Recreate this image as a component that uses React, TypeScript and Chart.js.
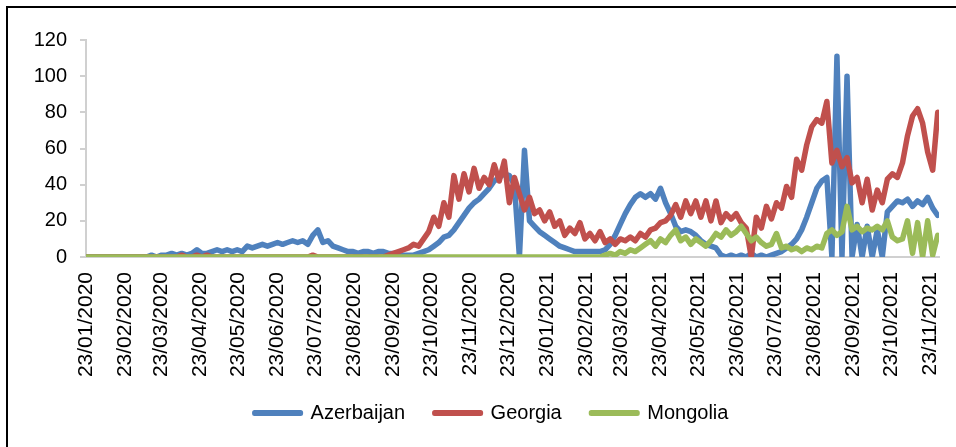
import React, { useEffect, useRef } from 'react';
import { Chart, registerables } from 'chart.js';

Chart.register(...registerables);

// ---- data -------------------------------------------------------------
const START_DATE = '23/01/2020';
const STEP_DAYS = 4; // one value every 4 days starting at START_DATE

const tickLabels = [
  '23/01/2020', '23/02/2020', '23/03/2020', '23/04/2020', '23/05/2020', '23/06/2020',
  '23/07/2020', '23/08/2020', '23/09/2020', '23/10/2020', '23/11/2020', '23/12/2020',
  '23/01/2021', '23/02/2021', '23/03/2021', '23/04/2021', '23/05/2021', '23/06/2021',
  '23/07/2021', '23/08/2021', '23/09/2021', '23/10/2021', '23/11/2021',
];

const seriesNames = ['Azerbaijan', 'Georgia', 'Mongolia'];
const seriesColors = ['#4F81BD', '#C0504D', '#9BBB59'];

const azerbaijan = [
  0, 0, 0, 0, 0, 0, 0, 0, 0, 0, 0, 0,
  0, 1, 0, 1, 1, 2, 1, 2, 1, 2, 4, 2, 2, 3, 4, 3, 4, 3, 4, 3,
  6, 5, 6, 7, 6, 7, 8, 7, 8, 9, 8, 9, 7, 12, 15, 8, 9, 6, 5, 4,
  3, 3, 2, 3, 3, 2, 3, 3, 2, 2, 1, 1, 1, 1, 2, 3, 4, 6, 8, 11,
  12, 15, 19, 23, 27, 30, 32, 35, 38, 42, 44, 46, 45, 40, 0, 59, 20, 17, 14, 12,
  10, 8, 6, 5, 4, 3, 3, 3, 3, 3, 3, 4, 7, 12, 18, 24, 29, 33, 35, 33,
  35, 32, 38, 30, 24, 17, 14, 15, 14, 12, 9, 7, 6, 5, 1, 0, 1, 0, 1, 0,
  2, 0, 1, 0, 1, 2, 3, 5, 7, 10, 15, 22, 30, 38, 42, 44, 0, 111, 0, 100,
  0, 18, 0, 17, 0, 15, 0, 25, 28, 31, 30, 32, 28, 31, 29, 33, 27, 23,
];

const georgia = [
  0, 0, 0, 0, 0, 0, 0, 0, 0, 0, 0, 0, 0, 0, 0, 0, 0, 0, 0, 1,
  0, 0, 1, 0, 1, 0, 0, 0, 0, 0, 0, 0, 0, 0, 0, 0, 0, 0, 0, 0,
  0, 0, 0, 0, 0, 1, 0, 0, 0, 0, 0, 0, 0, 0, 0, 0, 0, 0, 0, 0,
  1, 2, 3, 4, 5, 7, 6, 10, 14, 22, 17, 30, 22, 45, 32, 46, 36, 49, 38, 44,
  40, 51, 42, 53, 30, 44, 35, 26, 33, 24, 26, 20, 25, 17, 20, 12, 16, 13, 19, 10,
  13, 9, 14, 8, 10, 7, 10, 9, 11, 9, 13, 11, 15, 16, 19, 20, 23, 29, 22, 31,
  24, 31, 22, 31, 20, 31, 19, 24, 21, 24, 19, 16, 0, 22, 16, 28, 21, 30, 27, 39,
  33, 54, 48, 62, 72, 76, 74, 86, 52, 59, 50, 55, 41, 44, 30, 43, 26, 37, 30, 43,
  46, 44, 52, 67, 78, 82, 74, 58, 48, 80,
];

const mongolia = [
  0, 0, 0, 0, 0, 0, 0, 0, 0, 0, 0, 0, 0, 0, 0, 0, 0, 0, 0, 0,
  0, 0, 0, 0, 0, 0, 0, 0, 0, 0, 0, 0, 0, 0, 0, 0, 0, 0, 0, 0,
  0, 0, 0, 0, 0, 0, 0, 0, 0, 0, 0, 0, 0, 0, 0, 0, 0, 0, 0, 0,
  0, 0, 0, 0, 0, 0, 0, 0, 0, 0, 0, 0, 0, 0, 0, 0, 0, 0, 0, 0,
  0, 0, 0, 0, 0, 0, 0, 0, 0, 0, 0, 0, 0, 0, 0, 0, 0, 0, 0, 0,
  0, 0, 0,
  1, 2, 1, 3, 2, 4, 3, 5, 7, 9, 6, 10, 8, 12, 15, 9, 11,
  7, 10, 8, 6, 9, 13, 11, 15, 12, 14, 17, 13, 9, 11, 8, 6, 7, 13, 5, 6,
  4, 5, 3, 5, 4, 6, 5, 13, 15, 12, 14, 28, 15, 17, 14, 16, 15, 17, 15, 20,
  11, 9, 10, 20, 2, 19, 0, 20, 1, 12,
];

const seriesValues = [azerbaijan, georgia, mongolia];

// ---- helpers ----------------------------------------------------------
function dayNumber(label: string): number {
  const [d, m, y] = label.split('/').map(Number);
  const [d0, m0, y0] = START_DATE.split('/').map(Number);
  return Math.round((Date.UTC(y, m - 1, d) - Date.UTC(y0, m0 - 1, d0)) / 86400000);
}

const tickDays = tickLabels.map(dayNumber);
const labelByDay: Record<number, string> = {};
tickLabels.forEach((l, i) => { labelByDay[tickDays[i]] = l; });

const FONT = "'Liberation Sans', Arial, sans-serif";
const AXIS_GREY = '#d0d0d0';

// nudges the legend block to where the reference shows it
const LEGEND_DX = 22;
const LEGEND_DY = -8.5;
const legendPlacement = {
  id: 'legendPlacement',
  afterLayout(chart: any) {
    const lg = chart.legend;
    if (!lg) return;
    lg.left += LEGEND_DX;
    lg.right += LEGEND_DX;
    lg.top += LEGEND_DY;
    lg.bottom += LEGEND_DY;
  },
};

export default function App() {
  const canvasRef = useRef<HTMLCanvasElement | null>(null);

  useEffect(() => {
    if (!canvasRef.current) return;
    Chart.defaults.font.family = FONT;
    const datasets = seriesNames.map((name, si) => ({
      label: name,
      data: seriesValues[si].map((v, i) => ({ x: i * STEP_DAYS, y: v })),
      borderColor: seriesColors[si],
      backgroundColor: seriesColors[si],
      borderWidth: 5.5,
      pointRadius: 0,
      tension: 0,
      borderJoinStyle: 'round' as const,
      borderCapStyle: 'round' as const,
      order: seriesNames.length - 1 - si,
    }));

    const chart = new Chart(canvasRef.current, {
      type: 'line',
      data: { datasets },
      plugins: [legendPlacement],
      options: {
        responsive: false,
        animation: false,
        devicePixelRatio: 1,
        layout: { padding: { left: 0, right: 17, top: 40, bottom: 5.5 } },
        plugins: {
          tooltip: { enabled: false },
          legend: {
            position: 'bottom',
            labels: {
              boxWidth: 46,
              boxHeight: 1,
              padding: 29.5,
              color: '#000',
              font: { size: 20, family: FONT },
              generateLabels: (c: any) =>
                c.data.datasets.map((ds: any, i: number) => ({
                  text: ds.label,
                  fillStyle: ds.borderColor,
                  strokeStyle: ds.borderColor,
                  lineWidth: 5,
                  lineJoin: 'round',
                  lineCap: 'round',
                  datasetIndex: i,
                  hidden: false,
                  fontColor: '#000',
                })),
            },
          },
        },
        scales: {
          x: {
            type: 'linear',
            min: 0,
            max: 677,
            afterFit: (s: any) => { s.height = 125; s.paddingLeft = 0; s.paddingRight = 0; },
            afterBuildTicks: (s: any) => { s.ticks = tickDays.map((v) => ({ value: v })); },
            grid: { display: true, drawOnChartArea: false, drawTicks: false, color: AXIS_GREY },
            border: { display: true, color: AXIS_GREY, width: 2 },
            ticks: {
              autoSkip: false,
              maxRotation: 90,
              minRotation: 90,
              padding: 15,
              color: '#000',
              font: { size: 21, family: FONT },
              callback: (v: any) => labelByDay[Math.round(Number(v))] ?? '',
            },
          },
          y: {
            min: 0,
            max: 120,
            afterFit: (s: any) => { s.width = 86; },
            ticks: { stepSize: 20, padding: 13, color: '#000', font: { size: 20, family: FONT } },
            grid: { drawOnChartArea: false, drawTicks: true, tickLength: 6, color: AXIS_GREY, lineWidth: 2 },
            border: { display: true, color: AXIS_GREY, width: 2 },
          },
        },
      } as any,
    });
    return () => chart.destroy();
  }, []);

  return (
    <div style={{ position: 'fixed', left: 0, top: 0, width: 956, height: 447, overflow: 'hidden', background: '#fff' }}>
      <canvas ref={canvasRef} width={956} height={447} style={{ position: 'absolute', left: 0, top: 0 }} />
      <div style={{ position: 'absolute', left: 6, top: 6, width: 2000, height: 2000, borderLeft: '2px solid #000', borderTop: '2px solid #000', pointerEvents: 'none' }} />
    </div>
  );
}
